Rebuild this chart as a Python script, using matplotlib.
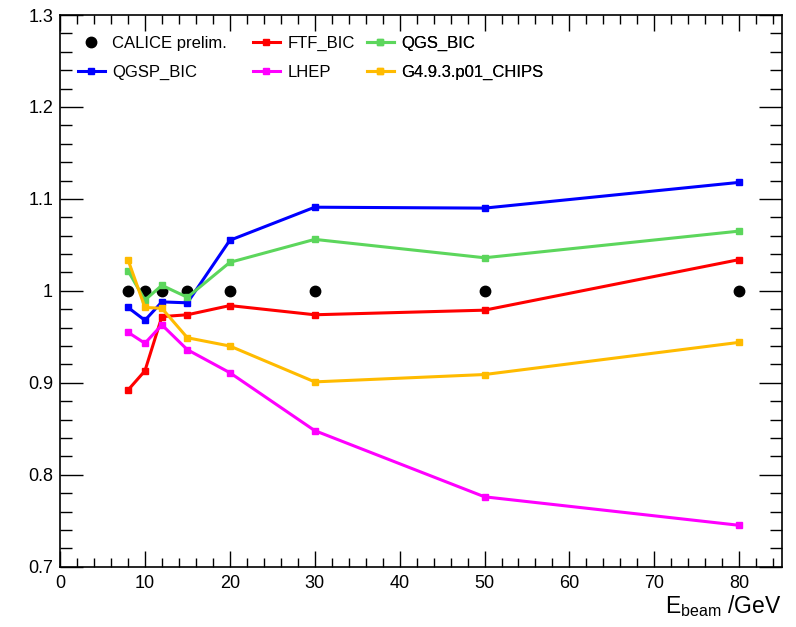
import matplotlib
matplotlib.use("Agg")
import matplotlib.pyplot as plt
from matplotlib.ticker import MultipleLocator

plt.rcParams["font.family"] = ["Liberation Sans", "DejaVu Sans"]
plt.rcParams["mathtext.fontset"] = "custom"
plt.rcParams["mathtext.rm"] = "Liberation Sans"

# valeurs
energies = [8, 10, 12, 15, 20, 30, 50, 80]
calice = [1.0, 1.0, 1.0, 1.0, 1.0, 1.0, 1.0, 1.0]
qgsp_bic = [0.982, 0.968, 0.988, 0.987, 1.055, 1.091, 1.090, 1.118]
ftf_bic = [0.892, 0.913, 0.972, 0.974, 0.984, 0.974, 0.979, 1.034]
lhep = [0.955, 0.943, 0.963, 0.936, 0.911, 0.848, 0.776, 0.745]
qgs_bic = [1.022, 0.990, 1.006, 0.993, 1.031, 1.056, 1.036, 1.065]
chips = [1.034, 0.982, 0.981, 0.949, 0.940, 0.901, 0.909, 0.944]

fig = plt.figure(figsize=(7.96, 6.27), dpi=100)
ax = fig.add_axes([0.0754, 0.0962, 0.982 - 0.0754, 0.976 - 0.0962])

h_cal, = ax.plot(energies, calice, "o", color="black", markersize=7.5,
                 linestyle="none", label="CALICE prelim.")

style = dict(marker="s", markersize=5, linewidth=2.2)
h_qgsp, = ax.plot(energies, qgsp_bic, color="#0000ff", label="QGSP_BIC", **style)
h_ftf, = ax.plot(energies, ftf_bic, color="#ff0000", label="FTF_BIC", **style)
h_lhep, = ax.plot(energies, lhep, color="#ff00ff", label="LHEP", **style)
h_qgs, = ax.plot(energies, qgs_bic, color="#5cd65c", label="QGS_BIC", **style)
h_chips, = ax.plot(energies, chips, color="#ffbb00", label="G4.9.3.p01_CHIPS", **style)

ax.set_xlim(0, 85)
ax.set_ylim(0.7, 1.3)

ax.xaxis.set_major_locator(MultipleLocator(10))
ax.xaxis.set_minor_locator(MultipleLocator(2))
ax.yaxis.set_minor_locator(MultipleLocator(0.02))
ax.set_yticks([0.7, 0.8, 0.9, 1.0, 1.1, 1.2, 1.3])
ax.set_yticklabels(["0.7", "0.8", "0.9", "1", "1.1", "1.2", "1.3"])

ax.tick_params(axis="both", which="both", direction="in", top=True, right=True,
               labelsize=13, width=1)
ax.tick_params(axis="x", which="major", length=11.5, pad=6)
ax.tick_params(axis="x", which="minor", length=6.5)
ax.tick_params(axis="y", which="major", length=16.5, pad=5)
ax.tick_params(axis="y", which="minor", length=8.5)
for sp in ax.spines.values():
    sp.set_linewidth(1.2)

ax.text(1.0, -0.072, r"$\mathrm{E}_{\mathrm{beam}}$ /GeV", transform=ax.transAxes,
        ha="right", va="center", fontsize=16.5)

# légende en trois colonnes placées à la main
cols = [
    ([h_cal, h_qgsp], 0.025),
    ([h_ftf, h_lhep], 0.2674),
    ([h_qgs, h_chips], 0.4254),
]
for handles, x0 in cols:
    leg = ax.legend(handles=handles, loc="upper left", bbox_to_anchor=(x0, 0.962),
                    frameon=False, fontsize=12, handlelength=1.6,
                    handletextpad=0.45, labelspacing=0.85, borderpad=0,
                    borderaxespad=0)
    ax.add_artist(leg)

fig.savefig("out.png", dpi=100)
